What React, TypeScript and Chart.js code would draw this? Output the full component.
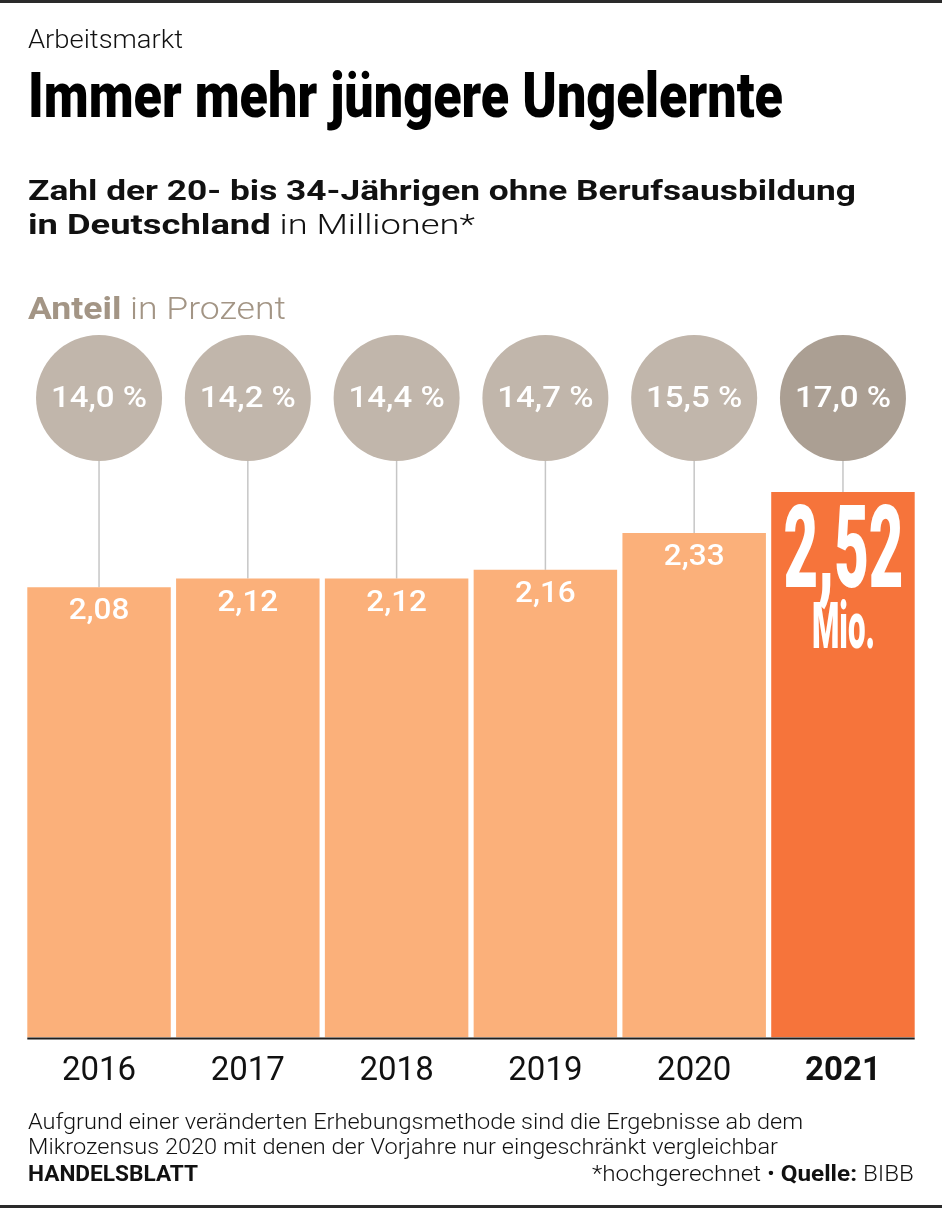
import React, { useEffect, useLayoutEffect, useRef } from 'react';
import { Chart, registerables } from 'chart.js';

Chart.register(...registerables);

// ---------- data ----------
const years = ['2016', '2017', '2018', '2019', '2020', '2021'];
const millions = [2.08, 2.12, 2.12, 2.16, 2.33, 2.52];
const sharePct = [14.0, 14.2, 14.4, 14.7, 15.5, 17.0];
const yMin = 0;
const yMax = 3;

// ---------- style ----------
const FONT = 'Roboto, "Liberation Sans", Arial, sans-serif';
const LIGHT_BAR = '#fbb07a';
const DARK_BAR = '#f6743b';
const CIRCLE = '#c1b6ab';
const CIRCLE_DARK = '#ab9f93';
const TAUPE = '#a39585';
const CIRCLE_Y = 398;
const CIRCLE_R = 63;
const LAST = years.length - 1;

const fmtVal = (v: number) => v.toFixed(2).replace('.', ',');
const fmtPct = (v: number) => v.toFixed(1).replace('.', ',') + ' %';

function drawText(
  ctx: CanvasRenderingContext2D,
  text: string,
  font: string,
  cx: number,
  baseline: number,
  opts: { width?: number; scale?: number }
) {
  ctx.save();
  ctx.font = font;
  const w = ctx.measureText(text).width;
  const s = opts.width ? opts.width / w : opts.scale || 1;
  ctx.translate(cx, baseline);
  ctx.scale(s, 1);
  ctx.textAlign = 'center';
  ctx.textBaseline = 'alphabetic';
  ctx.fillText(text, 0, 0);
  ctx.restore();
}

const overlayPlugin = {
  id: 'overlay',
  beforeDatasetsDraw(chart: any) {
    const ctx = chart.ctx as CanvasRenderingContext2D;
    const xs = chart.scales.x;
    const ys = chart.scales.y;
    ctx.save();
    years.forEach((_, i) => {
      const cx = xs.getPixelForValue(i);
      const top = ys.getPixelForValue(millions[i]);
      ctx.strokeStyle = '#c6c6c6';
      ctx.lineWidth = 1.5;
      ctx.beginPath();
      ctx.moveTo(cx, CIRCLE_Y + CIRCLE_R - 2);
      ctx.lineTo(cx, top);
      ctx.stroke();
      ctx.fillStyle = i === LAST ? CIRCLE_DARK : CIRCLE;
      ctx.beginPath();
      ctx.arc(cx, CIRCLE_Y, CIRCLE_R, 0, Math.PI * 2);
      ctx.fill();
      ctx.fillStyle = '#ffffff';
      drawText(ctx, fmtPct(sharePct[i]), `500 30px ${FONT}`, cx, CIRCLE_Y + 9, { scale: 1.1 });
    });
    ctx.restore();
  },
  afterDatasetsDraw(chart: any) {
    const ctx = chart.ctx as CanvasRenderingContext2D;
    const meta = chart.getDatasetMeta(0);
    const ys = chart.scales.y;
    const zero = ys.getPixelForValue(0);
    ctx.save();
    // value labels
    meta.data.forEach((bar: any, i: number) => {
      ctx.fillStyle = '#ffffff';
      if (i === LAST) {
        drawText(ctx, fmtVal(millions[i]), `900 115px ${FONT}`, bar.x + 0.5, bar.y + 95, { width: 120 });
        drawText(ctx, 'Mio.', `900 65px ${FONT}`, bar.x + 0.5, bar.y + 156, { width: 63 });
      } else {
        drawText(ctx, fmtVal(millions[i]), `500 30px ${FONT}`, bar.x, bar.y + 32, { scale: 1.05 });
      }
    });
    // baseline
    const first = meta.data[0];
    const last = meta.data[LAST];
    ctx.strokeStyle = '#1e1e1e';
    ctx.lineWidth = 2;
    ctx.beginPath();
    ctx.moveTo(first.x - first.width / 2, zero + 1);
    ctx.lineTo(last.x + last.width / 2, zero + 1);
    ctx.stroke();
    // year labels
    meta.data.forEach((bar: any, i: number) => {
      ctx.fillStyle = '#111111';
      ctx.font = `${i === LAST ? 700 : 400} 33px ${FONT}`;
      ctx.textAlign = 'center';
      ctx.textBaseline = 'alphabetic';
      ctx.fillText(years[i], bar.x, zero + 42);
    });
    ctx.restore();
  },
};

type TProps = {
  left?: number;
  right?: number;
  baseline: number;
  fontSize: number;
  fitWidth?: number;
  style?: React.CSSProperties;
  children: React.ReactNode;
};

function T({ left, right, baseline, fontSize, fitWidth, style, children }: TProps) {
  const ref = useRef<HTMLDivElement>(null);
  useLayoutEffect(() => {
    const el = ref.current;
    if (!el || !fitWidth) return;
    el.style.transform = 'none';
    const w = el.getBoundingClientRect().width;
    if (w > 0) el.style.transform = `scaleX(${fitWidth / w})`;
  }, [fitWidth]);
  return (
    <div
      ref={ref}
      style={{
        position: 'absolute',
        left,
        right,
        top: baseline - 0.842 * fontSize,
        fontSize,
        lineHeight: `${fontSize}px`,
        fontFamily: FONT,
        whiteSpace: 'nowrap',
        transformOrigin: right !== undefined ? '100% 0' : '0 0',
        color: '#111',
        ...style,
      }}
    >
      {children}
    </div>
  );
}

export default function App() {
  const canvasRef = useRef<HTMLCanvasElement>(null);

  useEffect(() => {
    if (!canvasRef.current) return;
    const chart = new Chart(canvasRef.current, {
      type: 'bar',
      data: {
        labels: years,
        datasets: [
          {
            data: millions,
            backgroundColor: years.map((_, i) => (i === LAST ? DARK_BAR : LIGHT_BAR)),
            borderWidth: 0,
            barPercentage: 0.9644,
            categoryPercentage: 1,
          },
        ],
      },
      options: {
        responsive: false,
        animation: false,
        devicePixelRatio: 1,
        layout: { padding: { left: 24.65, right: 24.65, top: 388, bottom: 170.5 } },
        plugins: {
          legend: { display: false },
          tooltip: { enabled: false },
          title: { display: false },
        },
        scales: {
          x: { display: false, grid: { display: false } },
          y: { display: false, min: yMin, max: yMax, grid: { display: false } },
        },
      },
      plugins: [overlayPlugin],
    });
    return () => chart.destroy();
  }, []);

  return (
    <div
      style={{
        position: 'absolute',
        left: 0,
        top: 0,
        width: 942,
        height: 1208,
        background: '#ffffff',
        overflow: 'hidden',
      }}
    >
      <canvas
        ref={canvasRef}
        width={942}
        height={1208}
        style={{ position: 'absolute', left: 0, top: 0, width: 942, height: 1208 }}
      />
      <div style={{ position: 'absolute', left: 0, top: 0, width: 942, height: 3, background: '#2a2a2a' }} />
      <div style={{ position: 'absolute', left: 0, top: 1205, width: 942, height: 3, background: '#2a2a2a' }} />

      <T left={28} baseline={48} fontSize={26} fitWidth={155} style={{ fontWeight: 300 }}>
        Arbeitsmarkt
      </T>
      <T left={28} baseline={117} fontSize={63} fitWidth={755} style={{ fontWeight: 900, color: '#000' }}>
        Immer mehr jüngere Ungelernte
      </T>
      <T left={28} baseline={201} fontSize={28} fitWidth={828} style={{ fontWeight: 700 }}>
        Zahl der 20- bis 34-Jährigen ohne Berufsausbildung
      </T>
      <T left={28} baseline={235} fontSize={28} fitWidth={447}>
        <span style={{ fontWeight: 700 }}>in Deutschland</span>
        <span style={{ fontWeight: 300 }}> in Millionen*</span>
      </T>
      <T left={28} baseline={319} fontSize={31} fitWidth={258} style={{ color: TAUPE }}>
        <span style={{ fontWeight: 700 }}>Anteil</span>
        <span style={{ fontWeight: 300 }}> in Prozent</span>
      </T>

      <T left={28} baseline={1130} fontSize={22} fitWidth={775} style={{ fontWeight: 300 }}>
        Aufgrund einer veränderten Erhebungsmethode sind die Ergebnisse ab dem
      </T>
      <T left={28} baseline={1155} fontSize={22} fitWidth={750} style={{ fontWeight: 300 }}>
        Mikrozensus 2020 mit denen der Vorjahre nur eingeschränkt vergleichbar
      </T>
      <T left={28} baseline={1182} fontSize={22} fitWidth={170} style={{ fontWeight: 700 }}>
        HANDELSBLATT
      </T>
      <T right={942 - 914} baseline={1182} fontSize={22} fitWidth={322}>
        <span style={{ fontWeight: 300 }}>*hochgerechnet • </span>
        <span style={{ fontWeight: 700 }}>Quelle:</span>
        <span style={{ fontWeight: 300 }}> BIBB</span>
      </T>
    </div>
  );
}
